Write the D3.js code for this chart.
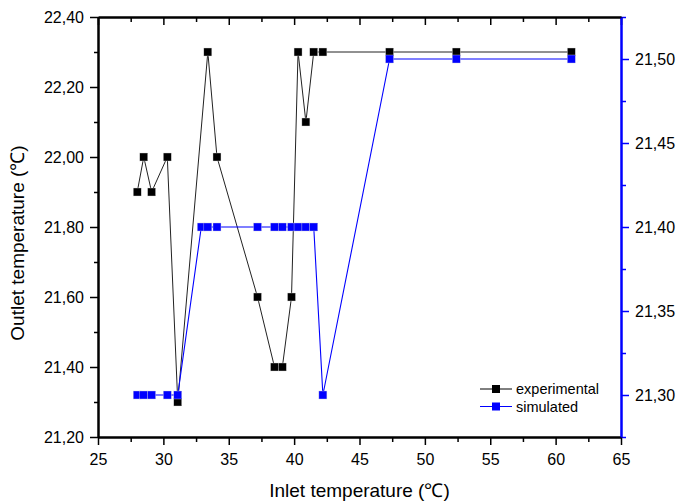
<!DOCTYPE html>
<html>
<head>
<meta charset="utf-8">
<script src="https://cdn.jsdelivr.net/npm/d3@7"></script>
<style>
  body { margin: 0; background: #fff; }
  svg { font-family: "Liberation Sans", Arial, sans-serif; }
</style>
</head>
<body>
<div id="chart-area"></div>
<script>
// Data
var expX   = [28.0, 28.5, 29.1, 30.3, 31.1, 33.4, 34.1, 37.2, 38.5, 39.1, 39.8, 40.3, 40.9, 41.5, 42.2, 47.3, 52.4, 61.2];
var expY   = [21.9, 22.0, 21.9, 22.0, 21.3, 22.3, 22.0, 21.6, 21.4, 21.4, 21.6, 22.3, 22.1, 22.3, 22.3, 22.3, 22.3, 22.3];
var simX   = [28.0, 28.5, 29.1, 30.3, 31.1, 32.9, 33.4, 34.1, 37.2, 38.5, 39.1, 39.8, 40.3, 40.9, 41.5, 42.2, 47.3, 52.4, 61.2];
var simY   = [21.3, 21.3, 21.3, 21.3, 21.3, 21.4, 21.4, 21.4, 21.4, 21.4, 21.4, 21.4, 21.4, 21.4, 21.4, 21.3, 21.5, 21.5, 21.5];
var xTicks = [25, 30, 35, 40, 45, 50, 55, 60, 65];
var yTicks = [21.2, 21.4, 21.6, 21.8, 22.0, 22.2, 22.4];
var y2Ticks = [21.30, 21.35, 21.40, 21.45, 21.50];
var seriesNames = ["experimental", "simulated"];

var margin = { left: 98, right: 60, top: 17, bottom: 65 },
    width = 681 - margin.left - margin.right,
    height = 502 - margin.top - margin.bottom;

var svg = d3.select("#chart-area")
    .append("svg")
    .attr("width", 681)
    .attr("height", 502);
var g = svg.append("g")
    .attr("transform", "translate(" + margin.left + "," + margin.top + ")");

// Scales
var x = d3.scaleLinear().domain([25, 65]).range([0, width]);
var y = d3.scaleLinear().domain([21.2, 22.4]).range([height, 0]);
var y2 = d3.scaleLinear().domain([21.275, 21.525]).range([height, 0]);

var comma = function(d){ return d3.format(".2f")(d).replace(".", ","); };
var minor = function(a, b, step){ return d3.range(a, b + step / 2, step); };

// Minor ticks first
g.append("g").attr("transform", "translate(0," + height + ")")
    .call(d3.axisBottom(x).tickValues(minor(27.5, 62.5, 5)).tickSize(5).tickFormat("").tickSizeOuter(0));
g.append("g")
    .call(d3.axisTop(x).tickValues(minor(27.5, 62.5, 5)).tickSize(-5).tickFormat("").tickSizeOuter(0));
g.append("g")
    .call(d3.axisLeft(y).tickValues(minor(21.3, 22.3, 0.2)).tickSize(4).tickFormat("").tickSizeOuter(0));
g.append("g").attr("class", "blue").attr("transform", "translate(" + width + ",0)")
    .call(d3.axisRight(y2).tickValues(minor(21.275, 21.525, 0.05)).tickSize(5).tickFormat("").tickSizeOuter(0));

// X-axis bottom
var xAxis = g.append("g")
    .attr("transform", "translate(0," + height + ")")
    .call(d3.axisBottom(x).tickValues(xTicks).tickSize(8).tickSizeOuter(0));
xAxis.selectAll("text").attr("y", 17).attr("font-size", "16px");

// X-axis top (ticks inward, no labels)
g.append("g")
    .call(d3.axisTop(x).tickValues(xTicks).tickSize(-8).tickFormat("").tickSizeOuter(0));

// Y-axis left
var yAxis = g.append("g")
    .call(d3.axisLeft(y).tickValues(yTicks).tickFormat(comma).tickSize(8).tickSizeOuter(0));
yAxis.selectAll("text").attr("x", -14).attr("font-size", "16px");

// Y-axis right (blue)
var y2Axis = g.append("g")
    .attr("class", "blue")
    .attr("transform", "translate(" + width + ",0)")
    .call(d3.axisRight(y2).tickValues(y2Ticks).tickFormat(comma).tickSize(8).tickSizeOuter(0));
y2Axis.selectAll("text").attr("x", 14).attr("font-size", "16px");

g.selectAll(".domain").attr("stroke-width", 2);
g.selectAll(".tick line").attr("stroke-width", 1.5);
g.selectAll(".tick text").attr("fill", "#000");
g.selectAll(".blue .domain, .blue .tick line").attr("stroke", "#0000ff");

// Lines
var expData = expX.map(function(d, i){ return { x: d, y: expY[i] }; });
var simData = simX.map(function(d, i){ return { x: d, y: simY[i] }; });

var expLine = d3.line().x(function(d){ return x(d.x); }).y(function(d){ return y(d.y); });
var simLine = d3.line().x(function(d){ return x(d.x); }).y(function(d){ return y2(d.y); });

g.append("path")
    .attr("fill", "none")
    .attr("stroke", "#222")
    .attr("stroke-width", 1)
    .attr("d", expLine(expData));

g.append("path")
    .attr("fill", "none")
    .attr("stroke", "#0000ff")
    .attr("stroke-width", 1.1)
    .attr("d", simLine(simData));

var sq = 8;
g.selectAll(".exp-pt")
    .data(expData)
    .enter().append("rect")
    .attr("class", "exp-pt")
    .attr("x", function(d){ return x(d.x) - sq / 2; })
    .attr("y", function(d){ return y(d.y) - sq / 2; })
    .attr("width", sq).attr("height", sq)
    .attr("fill", "#000")
    .attr("stroke", "#ddd").attr("stroke-width", 0.4);

g.selectAll(".sim-pt")
    .data(simData)
    .enter().append("rect")
    .attr("class", "sim-pt")
    .attr("x", function(d){ return x(d.x) - sq / 2; })
    .attr("y", function(d){ return y2(d.y) - sq / 2; })
    .attr("width", sq).attr("height", sq)
    .attr("fill", "#0000ff")
    .attr("stroke", "#ccd").attr("stroke-width", 0.4);

// Legend
var legend = svg.append("g").attr("transform", "translate(480,389)");
var legColors = ["#000", "#0000ff"];
seriesNames.forEach(function(name, i){
    var row = legend.append("g").attr("transform", "translate(0," + (i * 17.5) + ")");
    row.append("line").attr("x1", 0).attr("x2", 32).attr("y1", 0).attr("y2", 0)
        .attr("stroke", legColors[i]).attr("stroke-width", 1);
    row.append("rect").attr("x", 12).attr("y", -4).attr("width", 8).attr("height", 8)
        .attr("fill", legColors[i]);
    row.append("text").attr("x", 36).attr("y", 5)
        .attr("font-size", "14.5px").text(name);
});

// Axis titles
svg.append("text")
    .attr("x", margin.left + width / 2)
    .attr("y", 497)
    .attr("text-anchor", "middle")
    .attr("font-size", "19px")
    .text("Inlet temperature (℃)");

svg.append("text")
    .attr("transform", "rotate(-90)")
    .attr("x", -243)
    .attr("y", 24)
    .attr("text-anchor", "middle")
    .attr("font-size", "19px")
    .text("Outlet temperature (℃)");
</script>
</body>
</html>
